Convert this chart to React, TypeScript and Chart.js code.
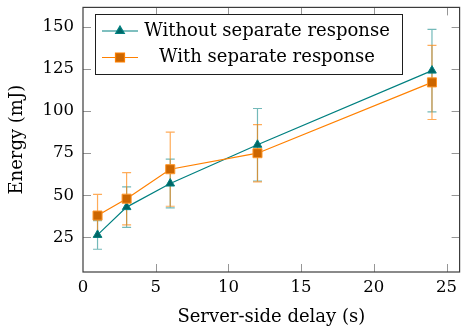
import React, { useEffect, useRef } from 'react';
import { Chart, registerables } from 'chart.js';

Chart.register(...registerables);

// ---- data ----
const delays = [1, 3, 6, 12, 24];
const withoutMean = [26.5, 43, 57, 80, 124];
const withoutErr = [8.5, 12, 14.5, 21.5, 24.5];
const withMean = [38, 48, 65.5, 75, 117];
const withErr = [12.5, 15.5, 22, 17, 22];
const xTicks = [0, 5, 10, 15, 20, 25];
const yTicks = [25, 50, 75, 100, 125, 150];
const seriesLabels = ['Without separate response', 'With separate response'];
const xTitle = 'Server-side delay (s)';
const yTitle = 'Energy (mJ)';

const FONT = '"DejaVu Serif", serif';
const TEAL = 'rgb(0,128,128)';
const TEAL_DARK = 'rgb(0,102,102)';
const ORANGE = 'rgb(255,128,0)';
const ORANGE_DARK = 'rgb(204,102,0)';

const zeroPad = (scale: any) => {
  scale.paddingTop = 0;
  scale.paddingBottom = 0;
  scale.paddingLeft = 0;
  scale.paddingRight = 0;
};

const errorBarsPlugin = {
  id: 'errorBars',
  beforeDatasetsDraw(chart: any) {
    const { ctx, scales } = chart;
    const x = scales.x;
    const y = scales.y;
    const sets = [
      { means: withoutMean, errs: withoutErr, color: 'rgba(0,128,128,0.55)' },
      { means: withMean, errs: withErr, color: 'rgba(255,128,0,0.65)' },
    ];
    ctx.save();
    ctx.lineWidth = 1.2;
    for (const s of sets) {
      ctx.strokeStyle = s.color;
      ctx.beginPath();
      delays.forEach((d, i) => {
        const px = x.getPixelForValue(d);
        const top = y.getPixelForValue(s.means[i] + s.errs[i]);
        const bot = y.getPixelForValue(s.means[i] - s.errs[i]);
        ctx.moveTo(px, top);
        ctx.lineTo(px, bot);
        ctx.moveTo(px - 4.5, top);
        ctx.lineTo(px + 4.5, top);
        ctx.moveTo(px - 4.5, bot);
        ctx.lineTo(px + 4.5, bot);
      });
      ctx.stroke();
    }
    ctx.restore();
  },
};

const framePlugin = {
  id: 'frame',
  afterDraw(chart: any) {
    const { ctx, chartArea, scales } = chart;
    const { left, right, top, bottom } = chartArea;
    const x = scales.x;
    const y = scales.y;
    ctx.save();
    // inward ticks
    ctx.strokeStyle = 'rgb(150,150,150)';
    ctx.lineWidth = 1;
    ctx.beginPath();
    xTicks.forEach((v) => {
      const px = Math.round(x.getPixelForValue(v)) + 0.5;
      if (px <= left + 1 || px >= right - 1) return;
      ctx.moveTo(px, bottom);
      ctx.lineTo(px, bottom - 8);
      ctx.moveTo(px, top);
      ctx.lineTo(px, top + 8);
    });
    yTicks.forEach((v) => {
      const py = Math.round(y.getPixelForValue(v)) + 0.5;
      ctx.moveTo(left, py);
      ctx.lineTo(left + 8, py);
      ctx.moveTo(right, py);
      ctx.lineTo(right - 8, py);
    });
    ctx.stroke();
    // box
    ctx.strokeStyle = 'rgb(60,60,60)';
    ctx.lineWidth = 1.2;
    ctx.strokeRect(left, top, right - left, bottom - top);

    // legend
    const lx = 95, ly = 14, lw = 307, lh = 60;
    ctx.fillStyle = '#fff';
    ctx.fillRect(lx, ly, lw, lh);
    ctx.strokeStyle = 'rgb(30,30,30)';
    ctx.lineWidth = 1;
    ctx.strokeRect(lx + 0.5, ly + 0.5, lw, lh);
    const rows = [
      { label: seriesLabels[0], line: TEAL, fill: TEAL_DARK, shape: 'tri', cy: 31 },
      { label: seriesLabels[1], line: ORANGE, fill: ORANGE_DARK, shape: 'sq', cy: 57.5 },
    ];
    rows.forEach((r) => {
      ctx.strokeStyle = r.line;
      ctx.lineWidth = 1.2;
      ctx.beginPath();
      ctx.moveTo(102, r.cy);
      ctx.lineTo(138, r.cy);
      ctx.stroke();
      ctx.fillStyle = r.fill;
      ctx.beginPath();
      if (r.shape === 'tri') {
        const rad = 5;
        ctx.moveTo(120, r.cy - rad);
        ctx.lineTo(120 + rad * 0.866, r.cy + rad * 0.5);
        ctx.lineTo(120 - rad * 0.866, r.cy + rad * 0.5);
        ctx.closePath();
      } else {
        ctx.rect(115.5, r.cy - 4.5, 9, 9);
      }
      ctx.fill();
      ctx.stroke();
      ctx.fillStyle = '#000';
      ctx.font = '18px ' + FONT;
      ctx.textAlign = 'center';
      ctx.textBaseline = 'middle';
      ctx.fillText(r.label, 267, r.cy);
    });
    ctx.restore();
  },
};

export default function App() {
  const ref = useRef<HTMLCanvasElement>(null);
  useEffect(() => {
    if (!ref.current) return;
    const chart = new Chart(ref.current, {
      type: 'line',
      data: {
        datasets: [
          {
            label: seriesLabels[1],
            data: delays.map((d, i) => ({ x: d, y: withMean[i] })),
            borderColor: ORANGE,
            backgroundColor: ORANGE_DARK,
            borderWidth: 1.2,
            pointStyle: 'rect',
            pointRadius: 6.4,
            pointBorderColor: 'rgb(255,150,40)',
            pointBorderWidth: 1,
            pointBackgroundColor: ORANGE_DARK,
            tension: 0,
            order: 0,
          },
          {
            label: seriesLabels[0],
            data: delays.map((d, i) => ({ x: d, y: withoutMean[i] })),
            borderColor: TEAL,
            backgroundColor: TEAL_DARK,
            borderWidth: 1.2,
            pointStyle: 'triangle',
            pointRadius: 5,
            pointBorderColor: TEAL,
            pointBorderWidth: 1,
            pointBackgroundColor: TEAL_DARK,
            tension: 0,
            order: 1,
          },
        ],
      },
      options: {
        animation: false,
        responsive: false,
        devicePixelRatio: 1,
        layout: { padding: { left: 0, top: 4, right: 4, bottom: 0 } },
        plugins: { legend: { display: false }, tooltip: { enabled: false } },
        scales: {
          x: {
            type: 'linear',
            min: 0,
            max: 25.9,
            grid: { display: false, drawTicks: false },
            border: { display: false },
            afterBuildTicks: (scale: any) => {
              scale.ticks = xTicks.map((v) => ({ value: v }));
            },
            afterFit: (scale: any) => {
              scale.height = 60;
              zeroPad(scale);
            },
            ticks: {
              color: '#000',
              padding: 5.5,
              maxRotation: 0,
              autoSkip: false,
              font: { family: FONT, size: 16.5 },
            },
            title: {
              display: true,
              text: xTitle,
              color: '#000',
              font: { family: FONT, size: 18, lineHeight: 1.2 },
              padding: { top: 0, bottom: 4 },
            },
          },
          y: {
            type: 'linear',
            min: 4.5,
            max: 161.5,
            grid: { display: false, drawTicks: false },
            border: { display: false },
            afterBuildTicks: (scale: any) => {
              scale.ticks = yTicks.map((v) => ({ value: v }));
            },
            afterFit: (scale: any) => {
              scale.width = 83;
              zeroPad(scale);
            },
            ticks: {
              color: '#000',
              padding: 9,
              autoSkip: false,
              font: { family: FONT, size: 16.5 },
            },
            title: {
              display: true,
              text: yTitle,
              color: '#000',
              font: { family: FONT, size: 18, lineHeight: 1.2 },
              padding: { top: 6.5, bottom: 0 },
            },
          },
        },
      },
      plugins: [errorBarsPlugin, framePlugin],
    } as any);
    return () => chart.destroy();
  }, []);
  return (
    <div style={{ position: 'absolute', left: 0, top: 0, width: 467, height: 332, background: '#fff' }}>
      <canvas ref={ref} width={467} height={332} style={{ display: 'block', width: 467, height: 332 }} />
    </div>
  );
}
